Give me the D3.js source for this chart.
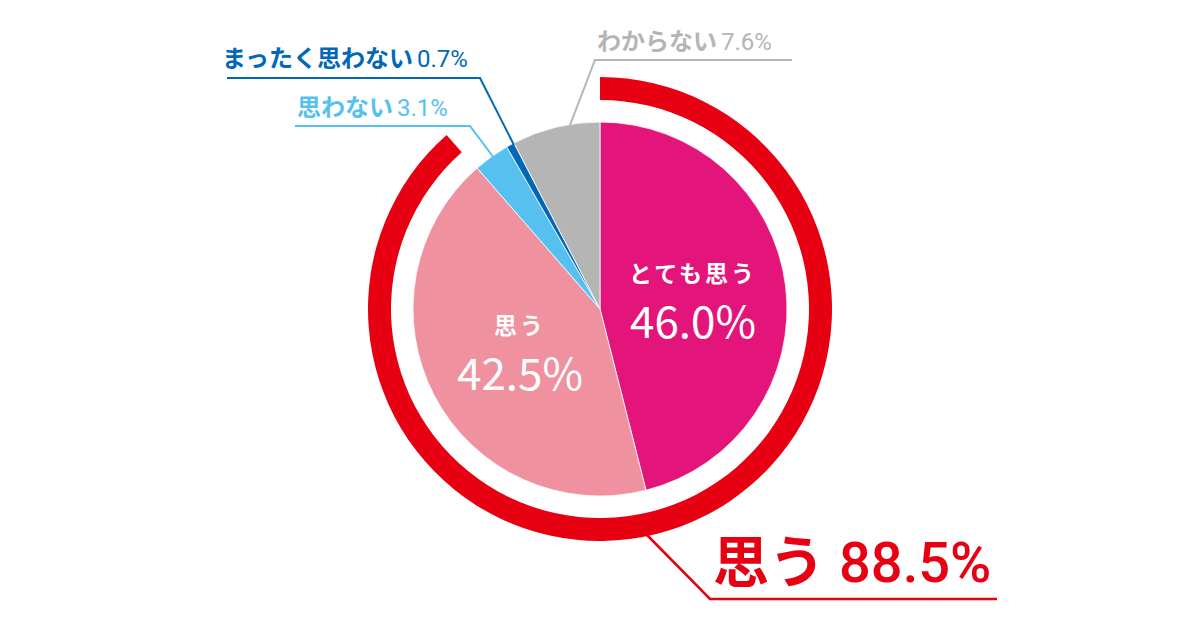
<!DOCTYPE html>
<html><head><meta charset="utf-8">
<script src="https://cdn.jsdelivr.net/npm/d3@7"></script>
<style>body{margin:0;background:#fff}svg{display:block}text{font-family:"Noto Sans CJK JP",sans-serif}</style>
</head><body><div id="container"></div>
<script>
const categories = ['とても思う', '思う', '思わない', 'まったく思わない', 'わからない'];
const values = [46.0, 42.5, 3.1, 0.7, 7.6];
const colors = ['#e4157a', '#f0919f', '#56c1f0', '#0068b7', '#b5b5b6'];
const totalLabel = '思う';
const totalValue = 88.5;

const WIDTH = 1200, HEIGHT = 630, CX = 600, CY = 309, R = 187;

const svg = d3.select('#container').append('svg').attr('width', WIDTH).attr('height', HEIGHT);
const g = svg.append('g').attr('transform', `translate(${CX},${CY})`);

const pie = d3.pie().sort(null).value((d) => d);
const arcs = pie(values);
const arc = d3.arc().innerRadius(0).outerRadius(R);

g.selectAll('path.slice').data(arcs).enter().append('path')
  .attr('class', 'slice').attr('d', arc)
  .attr('fill', (d, i) => colors[i])
  .attr('stroke', '#fff').attr('stroke-width', 0.8);

// outer ring for 思う total
g.append('path')
  .attr('d', d3.arc().innerRadius(209).outerRadius(232).startAngle(0).endAngle(2 * Math.PI * totalValue / 100)())
  .attr('fill', '#e60012');

// inner labels
const inner = [
  { i: 0, x: 693, y: 282, vy: 338 },
  { i: 1, x: 520, y: 334, vy: 390 },
];
inner.forEach((o) => {
  svg.append('text').attr('x', o.x).attr('y', o.y).attr('text-anchor', 'middle')
    .attr('fill', '#fff').attr('font-size', 23).attr('font-weight', 700)
    .attr('letter-spacing', 3).text(categories[o.i]);
  svg.append('text').attr('x', o.x).attr('y', o.vy).attr('text-anchor', 'middle')
    .attr('fill', '#fff').attr('font-size', 44).attr('font-family', 'Roboto')
    .attr('font-weight', 400).text(values[o.i].toFixed(1) + '%');
});

// outside labels with leader lines
const outside = [
  { i: 4, pts: [[570, 125], [595, 60], [792, 60]], tx: 597, ty: 50, anchor: 'start' },
  { i: 3, pts: [[514, 145], [480, 78], [227, 78]], tx: 222, ty: 67, anchor: 'start' },
  { i: 2, pts: [[494, 158], [470, 126], [295, 126]], tx: 297, ty: 116, anchor: 'start' },
];
const line = d3.line();
outside.forEach((o) => {
  svg.append('path').attr('d', line(o.pts)).attr('fill', 'none')
    .attr('stroke', colors[o.i]).attr('stroke-width', 2);
  const t = svg.append('text').attr('x', o.tx).attr('y', o.ty).attr('fill', colors[o.i])
    .attr('font-size', 24).attr('font-weight', 700);
  t.append('tspan').text(categories[o.i]);
  t.append('tspan').attr('font-family', 'Roboto').attr('font-weight', 400).attr('dx', 4)
    .text(values[o.i].toFixed(1) + '%');
});

// total label
svg.append('path').attr('d', line([[647, 535], [710, 599], [997, 599]]))
  .attr('fill', 'none').attr('stroke', '#e60012').attr('stroke-width', 2.5);
const tt = svg.append('text').attr('x', 713).attr('y', 582).attr('fill', '#e60012')
  .attr('font-size', 56).attr('font-weight', 700);
tt.append('tspan').text(totalLabel);
tt.append('tspan').attr('font-family', 'Roboto').attr('font-weight', 500).attr('dx', 14)
  .text(totalValue.toFixed(1) + '%');
</script></body></html>
